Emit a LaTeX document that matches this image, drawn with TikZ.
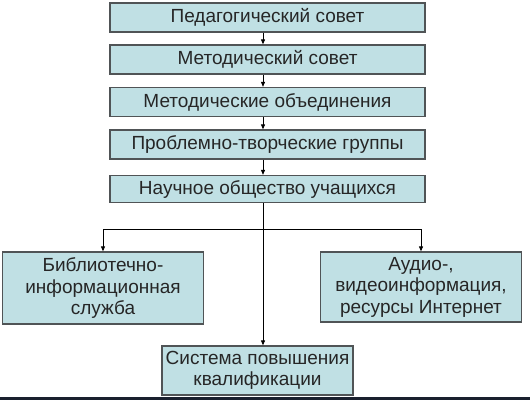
\documentclass[tikz,border=0pt]{standalone}
\usepackage{fontspec}
\setmainfont{Liberation Sans}
\usetikzlibrary{arrows.meta}
\definecolor{boxfill}{RGB}{192,224,228}
\definecolor{boxline}{RGB}{80,84,86}
\definecolor{strip}{RGB}{26,32,46}
\tikzset{
  box/.style={draw=boxline, line width=1.3pt, fill=boxfill, inner sep=0pt, align=center,
    font=\fontsize{19}{21.5}\selectfont, text=black!85},
  conn/.style={line width=0.9pt, -{Triangle[length=5pt,width=4pt]}},
  plain/.style={line width=0.9pt}
}
\begin{document}
\begin{tikzpicture}[x=1pt,y=-1pt]
\useasboundingbox (0,0) rectangle (530,400);
\fill[white] (0,0) rectangle (530,400);
\fill[strip] (0,396.5) rectangle (530,400);
\node[box, minimum width=315pt, minimum height=29pt] (b1) at (267.5,17.5) {Педагогический совет};
\node[box, minimum width=315pt, minimum height=29pt] (b2) at (267.5,59.5) {Методический совет};
\node[box, minimum width=315pt, minimum height=29pt] (b3) at (267.5,102) {Методические объединения};
\node[box, minimum width=315pt, minimum height=29pt] (b4) at (267.5,144.5) {Проблемно-творческие группы};
\node[box, minimum width=315pt, minimum height=27pt] (b5) at (267.5,189) {Научное общество учащихся};
\node[box, minimum width=201pt, minimum height=72pt] (lb) at (103,288) {Библиотечно-\\информационная\\служба};
\node[box, minimum width=201pt, minimum height=70pt] (rb) at (421,287) {Аудио-,\\видеоинформация,\\ресурсы Интернет};
\node[box, minimum width=191pt, minimum height=49pt] (sb) at (257.5,370.5) {Система повышения\\квалификации};
\coordinate (spine) at (263,0);
\coordinate (fork) at (263,229);
\draw[conn] (b1.south -| spine) -- (b2.north -| spine);
\draw[conn] (b2.south -| spine) -- (b3.north -| spine);
\draw[conn] (b3.south -| spine) -- (b4.north -| spine);
\draw[conn] (b4.south -| spine) -- (b5.north -| spine);
\draw[conn] (b5.south -| spine) -- (sb.north -| spine);
\draw[conn] (fork) -| (lb.north);
\draw[conn] (fork) -| (rb.north);
\end{tikzpicture}
\end{document}
